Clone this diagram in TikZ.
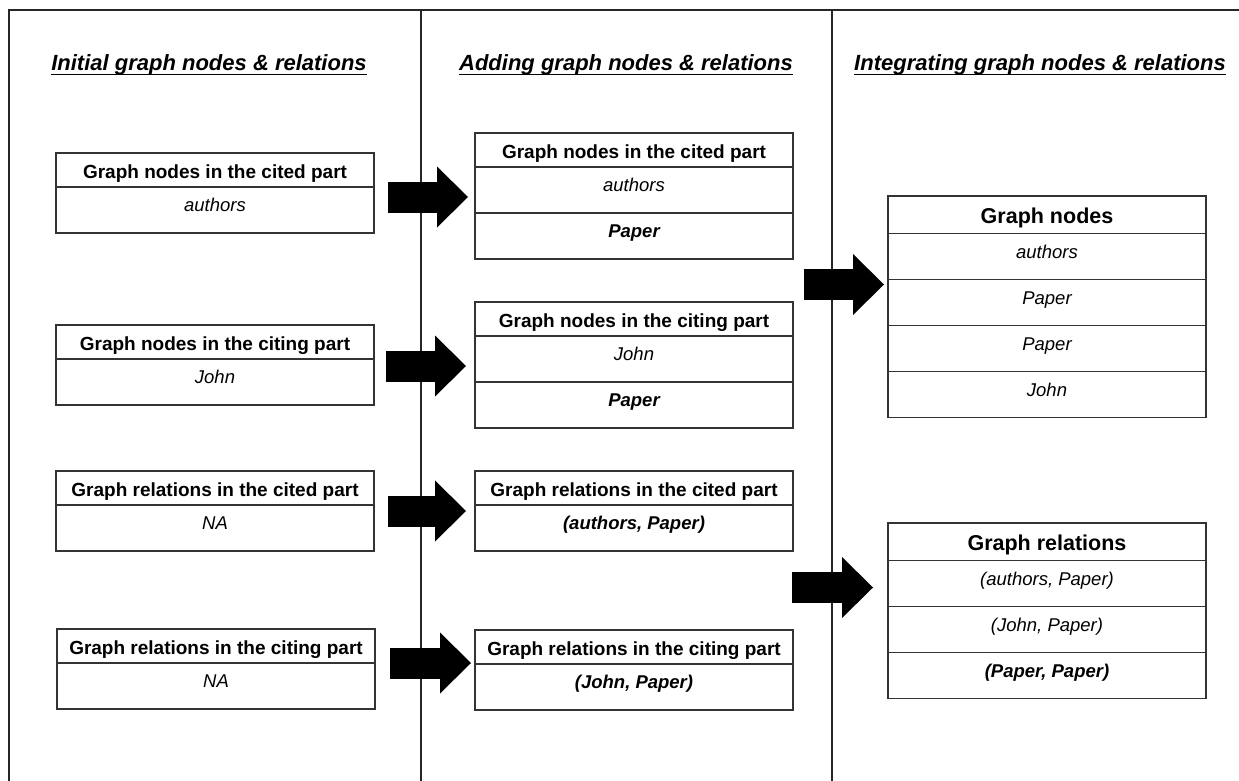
\documentclass[tikz,border=0pt]{standalone}
\usepackage{fontspec}
\setmainfont{Liberation Sans}
\usepackage{tikz}
\usetikzlibrary{positioning}
\usetikzlibrary{arrows.meta}
\newcommand{\rowheadheight}{34pt}
\newcommand{\itemheight}{46pt}
\newcommand{\boxwidth}{318pt}

\begin{document}
\begin{tikzpicture}[x=1pt, y=-1pt, node distance=0pt, outer sep=0pt]
\tikzstyle{ttl}=[
                  font=\fontsize{22}{24}\selectfont\bfseries\itshape,
                  inner sep=0pt,
                  anchor=base]

\tikzstyle{head}=[
                  draw=black!80,
                  line width=1.4pt,
                  rectangle,
                  minimum width=\boxwidth,
                  minimum height=\rowheadheight,
                  text height=16pt,
                  text depth=0pt,
                  font=\fontsize{19}{21}\selectfont\bfseries,
                  anchor=north west]

\tikzstyle{bighead}=[
                  minimum height=37.5pt,
                  text height=16.5pt,
                  font=\fontsize{21.5}{24}\selectfont\bfseries]

\tikzstyle{item}=[
                  draw=black!80,
                  line width=1.4pt,
                  rectangle,
                  minimum width=\boxwidth,
                  minimum height=\itemheight,
                  text height=12pt,
                  text depth=9pt,
                  font=\fontsize{18.5}{20}\selectfont\itshape,
                  anchor=north west]

\tikzstyle{bigarrow}=[
                  line width=31pt,
                  -{Triangle[length=31pt,width=61pt,line width=0pt]}]

\tikzstyle{frame}=[line width=1.5pt, black!85]

\useasboundingbox (0,0) rectangle (1239,781);

\draw[frame] (9,781) -- (9,10) -- (1239,10);
\draw[frame] (421,10) -- (421,781);
\draw[frame] (832,10) -- (832,781);

\node[ttl] (ttlinit) at (209,71)  {Initial graph nodes \& relations};
\node[ttl] (ttladd)  at (626,71)  {Adding graph nodes \& relations};
\node[ttl] (ttlint)  at (1040,71) {Integrating graph nodes \& relations};
\draw[line width=1.8pt] ([yshift=-3.5pt]ttlinit.base west) -- ([yshift=-3.5pt]ttlinit.base east);
\draw[line width=1.8pt] ([yshift=-3.5pt]ttladd.base west)  -- ([yshift=-3.5pt]ttladd.base east);
\draw[line width=1.8pt] ([yshift=-3.5pt]ttlint.base west)  -- ([yshift=-3.5pt]ttlint.base east);

\node[head] (incited)   at(56,153)               {Graph nodes in the cited part};
\node[item] (incitedA)  [below = of incited]     {authors};
\node[head] (inciting)  at(56,325)               {Graph nodes in the citing part};
\node[item] (incitingA) [below = of inciting]    {John};
\node[head] (ircited)   at(56,471)               {Graph relations in the cited part};
\node[item] (ircitedA)  [below = of ircited]     {NA};
\node[head] (irciting)  at(57,629)               {Graph relations in the citing part};
\node[item] (ircitingA) [below = of irciting]    {NA};

\node[head] (ancited)   at(475,133)              {Graph nodes in the cited part};
\node[item] (ancitedA)  [below = of ancited]     {authors};
\node[item] (ancitedB)  [below = of ancitedA]    {\bfseries Paper};
\node[head] (anciting)  at(475,302)              {Graph nodes in the citing part};
\node[item] (ancitingA) [below = of anciting]    {John};
\node[item] (ancitingB) [below = of ancitingA]   {\bfseries Paper};
\node[head] (arcited)   at(475,471)              {Graph relations in the cited part};
\node[item] (arcitedA)  [below = of arcited]     {\bfseries (authors, Paper)};
\node[head] (arciting)  at(475,630)              {Graph relations in the citing part};
\node[item] (arcitingA) [below = of arciting]    {\bfseries (John, Paper)};

\node[head,bighead] (gnodes) at(888,196)         {Graph nodes};
\node[item] (gnodesA)   [below = of gnodes]      {authors};
\node[item] (gnodesB)   [below = of gnodesA]     {Paper};
\node[item] (gnodesC)   [below = of gnodesB]     {Paper};
\node[item] (gnodesD)   [below = of gnodesC]     {John};
\node[head,bighead] (grel) at(888,523)           {Graph relations};
\node[item] (grelA)     [below = of grel]        {(authors, Paper)};
\node[item] (grelB)     [below = of grelA]       {(John, Paper)};
\node[item] (grelC)     [below = of grelB]       {\bfseries (Paper, Paper)};

\coordinate (a1) at ([xshift=14pt,yshift=-10pt]incited.south east);
\coordinate (a2) at ([xshift=12pt,yshift=-7pt]inciting.south east);
\coordinate (a3) at ([xshift=14pt,yshift=-6pt]ircited.south east);
\coordinate (a4) at ([xshift=15pt]irciting.south east);
\coordinate (a5) at ([xshift=-84pt,yshift=-51pt]gnodes.south west);
\coordinate (a6) at ([xshift=-96pt,yshift=-27pt]grel.south west);

\draw[bigarrow] (a1) -- ([xshift=-7pt]a1 -| ancited.west);
\draw[bigarrow] (a2) -- ([xshift=-9pt]a2 -| anciting.west);
\draw[bigarrow] (a3) -- ([xshift=-9pt]a3 -| arcited.west);
\draw[bigarrow] (a4) -- ([xshift=-4pt]a4 -| arciting.west);
\draw[bigarrow] (a5) -- ([xshift=-4pt]a5 -| gnodes.west);
\draw[bigarrow] (a6) -- ([xshift=-15pt]a6 -| grel.west);

\end{tikzpicture}
\end{document}
